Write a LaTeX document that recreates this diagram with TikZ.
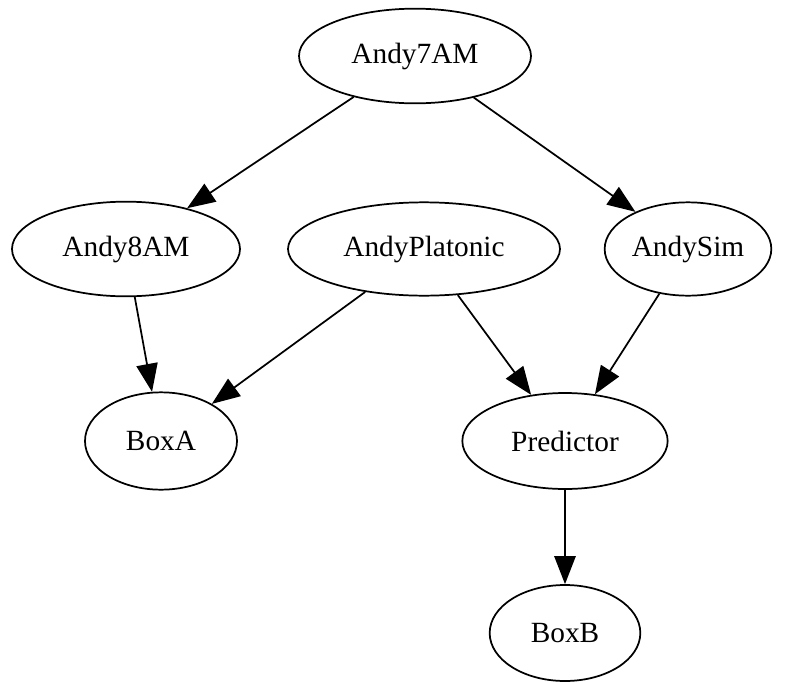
\documentclass[tikz,border=0pt]{standalone}
\usepackage{fontspec}
\setmainfont{Liberation Serif}
\usetikzlibrary{shapes.geometric}
\usetikzlibrary{arrows.meta}

\begin{document}
\begin{tikzpicture}[x=0.75pt,y=0.75pt,yscale=-1,xscale=1,
  vnode/.style={draw,ellipse,line width=1.3pt,inner sep=0pt,font=\fontsize{22}{26}\selectfont},
  vedge/.style={line width=1.3pt,-{Triangle[length=21pt,width=16pt]},shorten >=0pt}]
%set diagram size
\useasboundingbox (0,0) rectangle (800,682);

% Nodes
\node [vnode,minimum width=174pt,minimum height=71pt] (andy7am) at (415,56) {Andy7AM};
\node [vnode,minimum width=171pt,minimum height=71pt] (andy8am) at (126,249) {Andy8AM};
\node [vnode,minimum width=204pt,minimum height=70pt] (platonic) at (424,249) {AndyPlatonic};
\node [vnode,minimum width=125pt,minimum height=70pt] (andysim) at (688,249) {AndySim};
\node [vnode,minimum width=114pt,minimum height=73pt] (boxa) at (161,441) {BoxA};
\node [vnode,minimum width=154pt,minimum height=72pt] (predictor) at (565,441) {Predictor};
\node [vnode,minimum width=113pt,minimum height=72pt] (boxb) at (565,633) {BoxB};

% Edges
\draw [vedge] (andy7am) -- (andy8am);
\draw [vedge] (andy7am) -- (andysim);
\draw [vedge] (andy8am) -- (boxa);
\draw [vedge] (platonic) -- (boxa);
\draw [vedge] (platonic) -- (predictor);
\draw [vedge] (andysim) -- (predictor);
\draw [vedge] (predictor) -- (boxb);

\end{tikzpicture}
\end{document}
